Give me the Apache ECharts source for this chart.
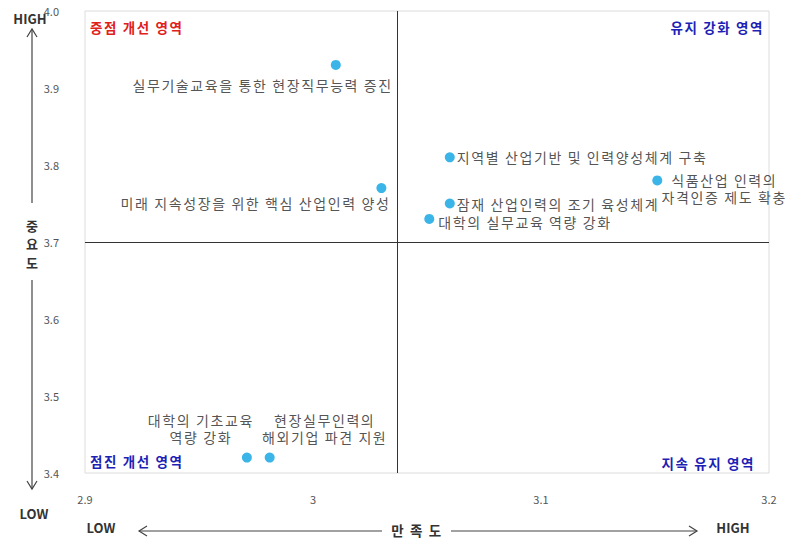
<!DOCTYPE html>
<html>
<head>
<meta charset="utf-8">
<script src="https://cdn.jsdelivr.net/npm/echarts@6/dist/echarts.min.js"></script>
<style>
  html, body { margin: 0; padding: 0; background: #fff; }
  #chart { width: 787px; height: 540px; }
  /* wider tracking for the Korean captions only (14px point labels, 13.5px headings) */
  #chart svg text[style*="14px"],
  #chart svg text[style*="13.5px"] { letter-spacing: 1.6px; }
</style>
</head>
<body>
<div id="chart"></div>
<script>
// IPA matrix: satisfaction (x) vs. importance (y)
const items = [
  '실무기술교육을 통한 현장직무능력 증진',
  '미래 지속성장을 위한 핵심 산업인력 양성',
  '지역별 산업기반 및 인력양성체계 구축',
  '식품산업 인력의\n자격인증 제도 확충',
  '잠재 산업인력의 조기 육성체계',
  '대학의 실무교육 역량 강화',
  '대학의 기초교육\n역량 강화',
  '현장실무인력의\n해외기업 파견 지원'
];
const satisfaction = [3.01, 3.03, 3.06, 3.151, 3.06, 3.051, 2.971, 2.981];
const importance   = [3.93, 3.77, 3.81, 3.78, 3.75, 3.73, 3.42, 3.42];

// quadrant split (mean values)
const satisfactionMean = 3.037;
const importanceMean = 3.70;

const xTicks = ['2.9', '3', '3.1', '3.2'];
const yTicks = ['3.4', '3.5', '3.6', '3.7', '3.8', '3.9', '4.0'];

const quadrantNames = ['중점 개선 영역', '유지 강화 영역', '점진 개선 영역', '지속 유지 영역'];

// label placement per item: [align, dx, dy]
const labelPlace = [
  ['right', 57, 20],
  ['right', 9, 15],
  ['left', 7, 0],
  ['center', 67, 8],
  ['left', 7, 0],
  ['left', 9, 3],
  ['center', -46, -29],
  ['center', 55, -29]
];

const FONT = '"Noto Sans CJK KR", "Noto Sans", sans-serif';
const dotColor = '#0aa2e2';

const points = satisfaction.map((x, i) => ({
  value: [x, importance[i]],
  name: items[i],
  label: {
    show: true,
    formatter: items[i],
    position: 'inside',
    align: labelPlace[i][0],
    verticalAlign: 'middle',
    offset: [labelPlace[i][1], labelPlace[i][2]],
    color: '#262626',
    fontSize: 14,
    lineHeight: 17,
    fontFamily: FONT
  }
}));

const chart = echarts.init(document.getElementById('chart'), null, { renderer: 'svg' });

const arrowStyle = { stroke: '#444', lineWidth: 1.2, fill: null };
const boldText = (txt, x, y, align, color, size) => ({
  type: 'text', x: x, y: y,
  style: {
    text: txt, fill: color || '#333', font: 'bold ' + (size || '13px') + ' ' + FONT,
    textAlign: align || 'center', textVerticalAlign: 'middle'
  }
});

chart.setOption({
  animation: false,
  grid: {
    left: 85, right: 18, top: 11, bottom: 67,
    show: true, borderColor: '#dcdcdc', borderWidth: 1, backgroundColor: '#fff'
  },
  xAxis: {
    type: 'value', min: 2.9, max: 3.2, interval: 0.1,
    axisLine: { show: false }, axisTick: { show: false }, splitLine: { show: false },
    axisLabel: {
      color: '#555', fontSize: 11, fontFamily: FONT, margin: 20,
      formatter: v => xTicks[Math.round((v - 2.9) * 10)]
    }
  },
  yAxis: {
    type: 'value', min: 3.4, max: 4.0, interval: 0.1,
    axisLine: { show: false }, axisTick: { show: false }, splitLine: { show: false },
    axisLabel: {
      color: '#555', fontSize: 11, fontFamily: FONT, margin: 26,
      formatter: v => yTicks[Math.round((v - 3.4) * 10)]
    }
  },
  series: [{
    type: 'scatter',
    symbolSize: 10,
    itemStyle: { color: dotColor },
    data: points,
    markLine: {
      silent: true,
      symbol: 'none',
      precision: 4,
      label: { show: false },
      lineStyle: { color: '#333', width: 1, type: 'solid' },
      data: [
        { xAxis: satisfactionMean },
        { yAxis: importanceMean }
      ]
    }
  }],
  graphic: [
    // quadrant names
    boldText(quadrantNames[0], 90, 27, 'left', '#e0201b', '13.5px'),
    boldText(quadrantNames[1], 764, 27, 'right', '#1d1fb5', '13.5px'),
    boldText(quadrantNames[2], 90, 461, 'left', '#1d1fb5', '13.5px'),
    boldText(quadrantNames[3], 755, 463, 'right', '#1d1fb5', '13.5px'),

    // vertical axis caption with arrows
    boldText('HIGH', 30, 18),
    { type: 'line', shape: { x1: 32, y1: 29, x2: 32, y2: 203 }, style: arrowStyle },
    { type: 'polyline', shape: { points: [[27, 37], [32, 29], [37, 37]] }, style: arrowStyle },
    boldText('중', 32, 225),
    boldText('요', 32, 243),
    boldText('도', 32, 262),
    { type: 'line', shape: { x1: 32, y1: 280, x2: 32, y2: 489 }, style: arrowStyle },
    { type: 'polyline', shape: { points: [[27, 481], [32, 489], [37, 481]] }, style: arrowStyle },
    boldText('LOW', 34, 513),

    // horizontal axis caption with arrows
    boldText('LOW', 101, 527),
    { type: 'line', shape: { x1: 139, y1: 531, x2: 382, y2: 531 }, style: arrowStyle },
    { type: 'polyline', shape: { points: [[147, 526], [139, 531], [147, 536]] }, style: arrowStyle },
    boldText('만 족 도', 417, 530, 'center', '#333', '13.5px'),
    { type: 'line', shape: { x1: 451, y1: 531, x2: 697, y2: 531 }, style: arrowStyle },
    { type: 'polyline', shape: { points: [[689, 526], [697, 531], [689, 536]] }, style: arrowStyle },
    boldText('HIGH', 733, 527)
  ]
});
</script>
</body>
</html>
